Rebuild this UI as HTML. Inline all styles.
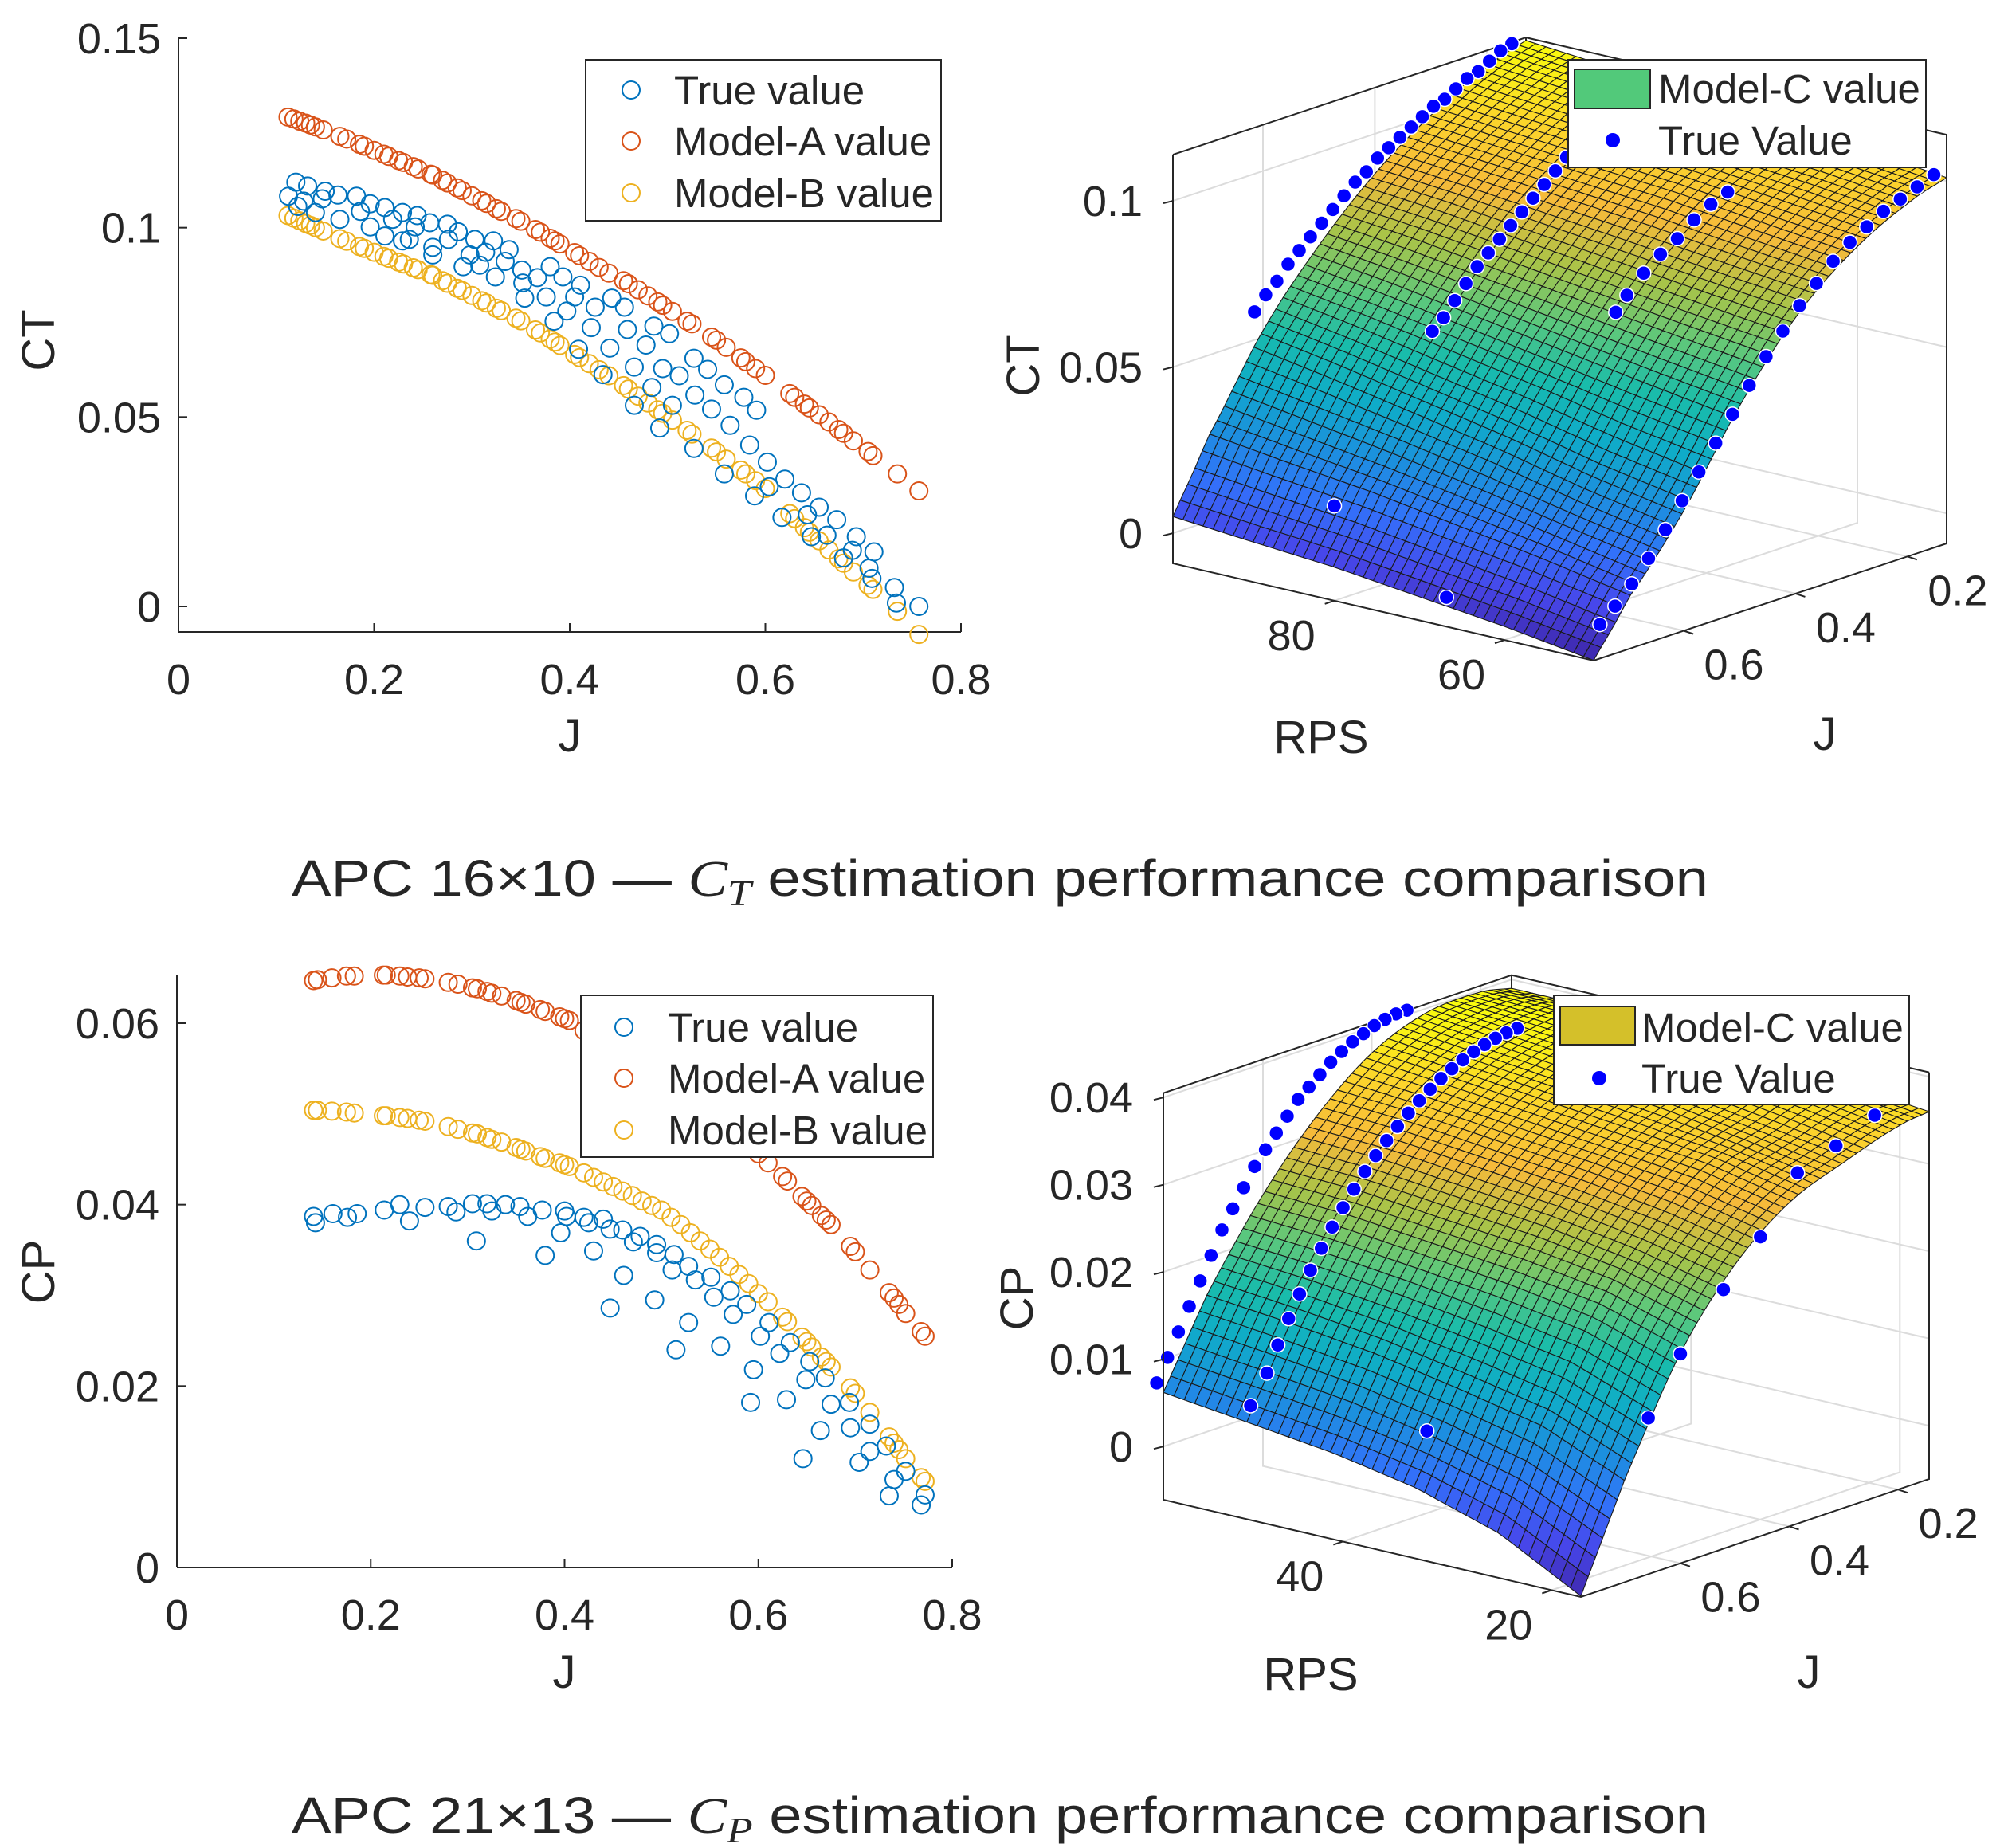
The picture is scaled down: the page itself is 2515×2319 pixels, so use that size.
<!DOCTYPE html>
<html><head><meta charset="utf-8"><style>
html,body{margin:0;padding:0;background:#fff;}
svg text{font-family:"Liberation Sans",sans-serif;fill:#262626;}
</style></head><body>
<svg id="fig" xmlns="http://www.w3.org/2000/svg" width="2515" height="2314" viewBox="0 0 2515 2314">
<rect x="0" y="0" width="2515" height="2314" fill="#fff"/>
<g id="tl"></g>
<g id="bl"></g>
<g id="tr"></g>
<g id="br"></g>

<text x="48" y="427" font-size="58" text-anchor="middle" transform="rotate(-90 48 427)" dy="20">CT</text>
<text x="715" y="943" font-size="58" text-anchor="middle">J</text>
<text x="48" y="1596" font-size="58" text-anchor="middle" transform="rotate(-90 48 1596)" dy="20">CP</text>
<text x="708" y="2118" font-size="58" text-anchor="middle">J</text>

<text x="1284" y="459" font-size="58" text-anchor="middle" transform="rotate(-90 1284 459)" dy="20">CT</text>
<text x="1658" y="945" font-size="58" text-anchor="middle">RPS</text>
<text x="2290" y="941" font-size="58" text-anchor="middle">J</text>
<text x="1276" y="1629" font-size="58" text-anchor="middle" transform="rotate(-90 1276 1629)" dy="20">CP</text>
<text x="1645" y="2121" font-size="58" text-anchor="middle">RPS</text>
<text x="2270" y="2118" font-size="58" text-anchor="middle">J</text>

<text x="366" y="1124" font-size="64" textLength="1778" lengthAdjust="spacingAndGlyphs">APC 16×10 — <tspan font-family="Liberation Serif, serif" font-style="italic">C</tspan><tspan font-family="Liberation Serif, serif" font-style="italic" font-size="46" dy="12">T</tspan><tspan dy="-12"> estimation performance comparison</tspan></text>
<text x="366" y="2300" font-size="64" textLength="1778" lengthAdjust="spacingAndGlyphs">APC 21×13 — <tspan font-family="Liberation Serif, serif" font-style="italic">C</tspan><tspan font-family="Liberation Serif, serif" font-style="italic" font-size="46" dy="12">P</tspan><tspan dy="-12"> estimation performance comparison</tspan></text>
</svg>
<script>
// ---------- CT 2D data ----------
const ctModelJ = [.112,.118,.124,.13,.135,.14,.148,.165,.172,.185,.19,.2,.21,.215,.225,.23,.24,.245,.258,.26,.27,.275,.285,.29,.3,.31,.315,.325,.33,.345,.35,.365,.37,.38,.385,.39,.405,.41,.42,.43,.44,.455,.46,.47,.48,.49,.495,.505,.52,.525,.545,.55,.56,.575,.58,.59,.6,.625,.63,.64,.645,.655,.665,.675,.68,.69,.705,.71,.735,.757];
const ctModelA = [.1292,.1287,.1281,.1276,.1271,.1266,.1258,.1241,.1234,.1220,.1215,.1204,.1194,.1188,.1177,.1172,.1161,.1155,.1141,.1139,.1125,.1118,.1105,.1098,.1084,.1071,.1064,.1050,.1043,.1024,.1017,.0995,.0988,.0972,.0965,.0957,.0934,.0926,.0911,.0895,.0880,.0860,.0852,.0836,.0820,.0804,.0795,.0779,.0753,.0746,.0711,.0703,.0684,.0656,.0646,.0628,.0610,.0562,.0552,.0534,.0524,.0506,.0487,.0467,.0457,.0437,.0409,.0398,.0350,.0305];
const ctModelB = [.1032,.1025,.1018,.1011,.1006,.1000,.0991,.0971,.0964,.0950,.0945,.0935,.0924,.0919,.0909,.0904,.0894,.0889,.0876,.0874,.0860,.0853,.0840,.0834,.0821,.0807,.0801,.0787,.0781,.0761,.0754,.0730,.0722,.0706,.0698,.0689,.0665,.0657,.0641,.0625,.0609,.0583,.0574,.0555,.0537,.0519,.0510,.0492,.0465,.0455,.0418,.0408,.0389,.0360,.0350,.0332,.0311,.0245,.0232,.0208,.0196,.0173,.0149,.0126,.0114,.0091,.0056,.0045,-.0013,-.0074];
const ctTrueJ = [.1125,.120,.122,.132,.128,.140,.147,.150,.165,.163,.182,.186,.196,.196,.211,.211,.219,.229,.229,.236,.242,.244,.257,.260,.260,.275,.276,.286,.291,.298,.303,.308,.314,.322,.324,.334,.338,.351,.352,.354,.367,.376,.380,.384,.393,.397,.405,.409,.411,.422,.426,.434,.441,.443,.456,.459,.466,.466,.478,.484,.486,.492,.495,.502,.505,.512,.527,.527,.528,.541,.545,.558,.558,.564,.578,.584,.589,.591,.602,.604,.617,.620,.637,.643,.647,.655,.663,.673,.680,.689,.693,.706,.709,.711,.732,.734,.757];
const ctTrue = [.1083,.112,.1056,.111,.107,.104,.1076,.1096,.1022,.1086,.1083,.1043,.1002,.1063,.1053,.0978,.1022,.104,.0965,.0969,.1002,.1032,.1013,.0948,.0928,.1009,.0969,.0989,.0897,.0928,.0969,.0901,.0935,.0965,.087,.0911,.0942,.0888,.0854,.0814,.0868,.0817,.0897,.0753,.087,.078,.0817,.0679,.0848,.0736,.079,.0612,.0682,.0814,.079,.0731,.0632,.0531,.069,.0578,.074,.0471,.0628,.072,.0531,.0609,.0655,.0417,.0558,.0626,.0521,.0585,.035,.0478,.0552,.0426,.0292,.0518,.0381,.0316,.0235,.0336,.03,.0242,.0184,.0262,.0188,.0229,.0128,.0148,.0184,.0101,.0074,.0144,.005,.0009,.0];
const ctXTicks = [0,0.2,0.4,0.6,0.8];
const ctXTickLabels = ["0","0.2","0.4","0.6","0.8"];
const ctYTicks = [0,0.05,0.1,0.15];
const ctYTickLabels = ["0","0.05","0.1","0.15"];

// ---------- CP 2D data ----------
const cpModelJ = [.141,.145,.16,.175,.183,.213,.216,.23,.238,.25,.256,.28,.29,.305,.31,.32,.325,.335,.35,.355,.36,.375,.38,.395,.40,.405,.42,.43,.44,.45,.46,.47,.48,.49,.5,.51,.52,.53,.54,.55,.56,.57,.58,.59,.60,.61,.625,.63,.645,.65,.655,.665,.67,.675,.695,.70,.715,.735,.74,.745,.752,.768,.772];
const cpModelA = [.0647,.0648,.065,.0652,.0652,.0653,.0653,.0652,.0651,.065,.0649,.0645,.0643,.0639,.0638,.0635,.0633,.063,.0625,.0623,.0621,.0615,.0613,.0607,.0605,.0603,.0592,.0585,.0577,.057,.0563,.0557,.055,.0542,.0535,.0528,.052,.0513,.0505,.0497,.0489,.048,.0472,.0464,.0456,.0446,.0431,.0426,.0409,.0404,.0399,.0388,.0383,.0378,.0354,.0348,.0328,.0303,.0297,.029,.028,.026,.0255];
const cpModelB = [.0504,.0504,.0503,.0502,.0501,.0498,.0498,.0496,.0495,.0493,.0492,.0486,.0483,.0479,.0478,.0474,.0472,.0469,.0463,.0461,.0459,.0453,.0451,.0446,.0444,.0442,.0435,.0430,.0425,.042,.0415,.041,.0404,.0399,.0394,.0386,.0378,.0369,.036,.0351,.0342,.0332,.0323,.0313,.0302,.0293,.0276,.0271,.0254,.0249,.0243,.0232,.0227,.0221,.0198,.0192,.0171,.0144,.0137,.013,.012,.0099,.0095];
const cpTrueJ = [.141,.143,.161,.176,.186,.214,.230,.240,.256,.280,.288,.305,.309,.320,.325,.339,.354,.362,.377,.380,.396,.400,.402,.420,.425,.430,.440,.447,.447,.460,.461,.471,.478,.493,.495,.495,.513,.511,.515,.528,.528,.535,.551,.554,.561,.571,.574,.588,.592,.595,.602,.611,.622,.629,.633,.646,.649,.653,.664,.669,.675,.694,.695,.704,.715,.715,.732,.735,.740,.752,.768,.772];
const cpTrue = [.0387,.038,.039,.0386,.039,.0394,.040,.0382,.0397,.0398,.0392,.0401,.036,.0401,.0393,.040,.0398,.0387,.0394,.0344,.0369,.0393,.0387,.0386,.038,.0349,.0384,.0373,.0286,.0372,.0322,.0359,.0365,.0295,.0356,.0347,.0345,.0328,.024,.0332,.027,.0317,.032,.0298,.0244,.0305,.0279,.029,.0182,.0218,.0255,.027,.0236,.0185,.0248,.012,.0207,.0227,.0151,.0209,.018,.0182,.0154,.0116,.0158,.0128,.0134,.0079,.0097,.0106,.0069,.008];
const cpXTicks = [0,0.2,0.4,0.6,0.8];
const cpXTickLabels = ["0","0.2","0.4","0.6","0.8"];
const cpYTicks = [0,0.02,0.04,0.06];
const cpYTickLabels = ["0","0.02","0.04","0.06"];

// ---------- CT surface data ----------
const ctSurfRps = [49.5,60,70,80,90,99];
const ctSurfJ = [.13,.2,.3,.4,.5,.6,.7,.761];
const ctSurfRow0 = [.101,.097,.088,.074,.053,.027,.006,-.009];
const ctSurfRow1 = [.104,.100,.091,.077,.057,.032,.011,-.005];
const ctSurfRow2 = [.106,.102,.094,.080,.061,.038,.015,-.002];
const ctSurfRow3 = [.109,.105,.096,.083,.065,.043,.019,.001];
const ctSurfRow4 = [.111,.107,.098,.086,.069,.048,.022,.003];
const ctSurfRow5 = [.113,.109,.100,.088,.072,.052,.025,.005];
const ctDotRps = [100,100,100,100,100,100,100,100,100,100,100,100,100,100,100,100,100,100,100,100,100,100,100,100,
  85,85,85,85,85,85,85,85,85,85,85,85,85,
  70,70,70,70,70,70,70,70,
  51,51,51,51,51,51,51,51,51,51,51,51,51,51,51,51,51,51,51,51,51, 68, 81];
const ctDotJ = [.14,.16,.18,.2,.22,.24,.26,.28,.3,.32,.34,.36,.38,.4,.42,.44,.46,.48,.5,.52,.54,.56,.58,.6,
  .27,.29,.31,.33,.35,.37,.39,.41,.43,.45,.47,.49,.51,
  .21,.24,.27,.30,.33,.36,.39,.41,
  .13,.16,.19,.22,.25,.28,.31,.34,.37,.40,.43,.46,.49,.52,.55,.58,.61,.64,.67,.70,.727, .743, .746];
const ctDotCT = [.112,.111,.109,.107,.106,.104,.102,.101,.099,.097,.095,.093,.091,.088,.086,.083,.080,.077,.074,.071,.068,.064,.061,.057,
  .094,.091,.088,.085,.082,.079,.076,.073,.070,.066,.062,.058,.055,
  .089,.087,.084,.080,.077,.073,.068,.064,
  .101,.099,.097,.095,.092,.089,.085,.080,.075,.069,.063,.056,.049,.042,.035,.028,.021,.014,.008,.003,-.001, -.002, .018];

// ---------- CP surface data ----------
const cpSurfRps = [17.2,25,33,41,49,57.2];
const cpSurfJ = [.143,.2,.3,.4,.5,.6,.7,.783];
const cpSurfRow0 = [.036,.0355,.0335,.031,.026,.018,.006,-.006];
const cpSurfRow1 = [.037,.037,.035,.033,.028,.021,.010,-.001];
const cpSurfRow2 = [.038,.038,.0365,.034,.0295,.0225,.012,.002];
const cpSurfRow3 = [.0385,.039,.0375,.035,.0305,.0235,.0138,.0038];
const cpSurfRow4 = [.039,.0395,.0385,.036,.0315,.0245,.015,.005];
const cpSurfRow5 = [.039,.0398,.0395,.037,.032,.025,.016,.0062];
const cpDotRps = [58,58,58,58,58,58,58,58,58,58,58,58,58,58,58,58,58,58,58,58,58,58,58,58,
  49,49,49,49,49,49,49,49,49,49,49,49,49,49,49,49,49,49,49,49,49,49,49,49,49,
  17.2,17.2,17.2,17.2,17.2,17.2,17.2, 33];
const cpDotJ = [.32,.34,.36,.38,.40,.42,.44,.46,.48,.50,.52,.54,.56,.58,.60,.62,.64,.66,.68,.70,.72,.74,.76,.78,
  .29,.31,.33,.35,.37,.39,.41,.43,.45,.47,.49,.51,.53,.55,.57,.59,.61,.63,.65,.67,.69,.71,.73,.75,.78,
  .243,.314,.385,.453,.521,.600,.659, .763];
const cpDotCP = [.040,.040,.0398,.0395,.039,.0385,.0378,.037,.036,.035,.034,.0325,.031,.0295,.028,.026,.024,.022,.0195,.017,.0145,.012,.0095,.007,
  .0398,.0397,.0395,.0392,.0388,.0383,.0377,.037,.0362,.0353,.0343,.0332,.032,.0307,.0293,.0277,.026,.0242,.0222,.0201,.0178,.0154,.0128,.010,.0069,
  .0377,.0357,.0341,.0282,.0236,.0179,.0118, .0081];

const NS = "http://www.w3.org/2000/svg";
function mk(parent, tag, attrs, txt){
  const e = document.createElementNS(NS, tag);
  for (const k in attrs) e.setAttribute(k, attrs[k]);
  if (txt !== undefined) e.textContent = txt;
  parent.appendChild(e);
  return e;
}
function lin(d0,d1,r0,r1){ return v => r0 + (v-d0)/(d1-d0)*(r1-r0); }

// ---------- 2D scatter ----------
function scatter2D(g, cfg){
  const xs = lin(0,0.8,cfg.x0,cfg.x1), ys = lin(0,cfg.yRef,cfg.y0,cfg.yRefPx);
  const ax = mk(g,'line',{x1:cfg.x0,y1:cfg.axisBottom,x2:cfg.x1,y2:cfg.axisBottom,stroke:'#262626','stroke-width':2});
   
  const ay = mk(g,'line',{x1:cfg.x0,y1:cfg.axisTop,x2:cfg.x0,y2:cfg.axisBottom,stroke:'#262626','stroke-width':2});
   
  cfg.xTicks.forEach((t,i)=>{
    const x = xs(t);
    const tk = mk(g,'line',{x1:x,y1:cfg.axisBottom,x2:x,y2:cfg.axisBottom-11,stroke:'#262626','stroke-width':2});
     
    const lb = mk(g,'text',{x:x,y:cfg.axisBottom+78,'font-size':54,'text-anchor':'middle'},cfg.xLabels[i]);
     
  });
  cfg.yTicks.forEach((t,i)=>{
    const y = ys(t);
    const tk = mk(g,'line',{x1:cfg.x0,y1:y,x2:cfg.x0+11,y2:y,stroke:'#262626','stroke-width':2});
     
    const lb = mk(g,'text',{x:cfg.x0-22,y:y+19,'font-size':54,'text-anchor':'end'},cfg.yLabels[i]);
     
  });
  function series(J,V,color,name){
    const sg = mk(g,'g',{});
     
    const n = Math.min(J.length,V.length);
    for(let i=0;i<n;i++){
      const c = mk(sg,'circle',{cx:xs(J[i]),cy:ys(V[i]),r:11,fill:'none',stroke:color,'stroke-width':2});
       
    }
  }
  series(cfg.aJ,cfg.A,'#D95319','model-a-series');
  series(cfg.aJ,cfg.B,'#EDB120','model-b-series');
  series(cfg.tJ,cfg.T,'#0072BD','true-value-series');
  const lg = mk(g,'g',{});
   
  const lr = mk(lg,'rect',{x:cfg.lx,y:cfg.ly,width:cfg.lw,height:cfg.lh,fill:'#fff',stroke:'#262626','stroke-width':2});
   
  const items=[['True value','#0072BD'],['Model-A value','#D95319'],['Model-B value','#EDB120']];
  items.forEach((it,i)=>{
    const y = cfg.rows[i];
    const m = mk(lg,'circle',{cx:cfg.mx,cy:y,r:11,fill:'none',stroke:it[1],'stroke-width':2});
     
    const t = mk(lg,'text',{x:cfg.tx,y:y+18,'font-size':51},it[0]);
     
  });
}
scatter2D(document.getElementById('tl'),{x0:224,x1:1206,y0:761,yRef:0.15,yRefPx:48,axisTop:48,axisBottom:793,
  xTicks:ctXTicks,xLabels:ctXTickLabels,yTicks:ctYTicks,yLabels:ctYTickLabels,
  aJ:ctModelJ,A:ctModelA,B:ctModelB,tJ:ctTrueJ,T:ctTrue,
  lx:735,ly:75,lw:446,lh:202,rows:[113,177,242],mx:792,tx:846});
scatter2D(document.getElementById('bl'),{x0:222,x1:1195,y0:1967,yRef:0.06,yRefPx:1284,axisTop:1224,axisBottom:1967,
  xTicks:cpXTicks,xLabels:cpXTickLabels,yTicks:cpYTicks,yLabels:cpYTickLabels,
  aJ:cpModelJ,A:cpModelA,B:cpModelB,tJ:cpTrueJ,T:cpTrue,
  lx:729,ly:1249,lw:442,lh:203,rows:[1289,1353,1418],mx:783,tx:838});

// ---------- 3D surface ----------
const parula = [[62,38,168],[71,71,235],[50,114,250],[28,144,222],[15,172,200],[25,188,171],[92,200,124],[170,196,72],[246,186,58],[252,212,44],[249,251,14]];
function cmap(t){
  t = Math.max(0,Math.min(1,t))*(parula.length-1);
  const i = Math.min(parula.length-2,Math.floor(t)), f = t-i;
  const a=parula[i], b=parula[i+1];
  return 'rgb('+a.map((v,k)=>Math.round(v+(b[k]-v)*f)).join(',')+')';
}
function surface3D(g, cfg){
  const L=cfg.L,F=cfg.F,R=cfg.R;
  function P(rps,j,z){
    const fr=(cfg.rpsMax-rps)/(cfg.rpsMax-cfg.rpsMin), fj=(cfg.jMax-j)/(cfg.jMax-cfg.jMin);
    return [L[0]+fr*(F[0]-L[0])+fj*(R[0]-F[0]), L[1]+fr*(F[1]-L[1])+fj*(R[1]-F[1])-(z-cfg.zMin)*cfg.zPx];
  }
  const pts = a => a.map(p=>p[0].toFixed(1)+','+p[1].toFixed(1)).join(' ');
  const zTop = cfg.zMax;
  const gg = mk(g,'g',{stroke:'#dcdcdc','stroke-width':2,fill:'none'});
   
  cfg.zTicks.forEach(z=>{
    mk(gg,'polyline',{points:pts([P(cfg.rpsMax,cfg.jMax,z),P(cfg.rpsMax,cfg.jMin,z),P(cfg.rpsMin,cfg.jMin,z)])});
  });
  cfg.jTicks.forEach(j=>{
    mk(gg,'polyline',{points:pts([P(cfg.rpsMin,j,cfg.zMin),P(cfg.rpsMax,j,cfg.zMin),P(cfg.rpsMax,j,zTop)])});
  });
  cfg.rpsTicks.forEach(r=>{
    mk(gg,'polyline',{points:pts([P(r,cfg.jMax,cfg.zMin),P(r,cfg.jMin,cfg.zMin),P(r,cfg.jMin,zTop)])});
  });
  const be = mk(g,'g',{stroke:'#262626','stroke-width':2,fill:'none'});
   
  mk(be,'polyline',{points:pts([P(cfg.rpsMax,cfg.jMax,zTop),P(cfg.rpsMax,cfg.jMin,zTop),P(cfg.rpsMin,cfg.jMin,zTop)])});
  mk(be,'polyline',{points:pts([P(cfg.rpsMax,cfg.jMin,cfg.zMin),P(cfg.rpsMax,cfg.jMin,zTop)])});
  const rows = cfg.rows;
  function rowVal(row,j){
    const J=cfg.sJ; let k=0;
    while(k<J.length-2 && j>J[k+1]) k++;
    const t=(j-J[k])/(J[k+1]-J[k]);
    const p0=row[Math.max(0,k-1)], p1=row[k], p2=row[k+1], p3=row[Math.min(J.length-1,k+2)];
    const m1=(p2-p0)/((k>0?2:1)), m2=(p3-p1)/((k+2<J.length?2:1));
    const t2=t*t,t3=t2*t;
    return (2*t3-3*t2+1)*p1+(t3-2*t2+t)*m1+(-2*t3+3*t2)*p2+(t3-t2)*m2;
  }
  function zAt(rps,j){
    const Rr=cfg.sRps; let k=0;
    while(k<Rr.length-2 && rps>Rr[k+1]) k++;
    const t=(rps-Rr[k])/(Rr[k+1]-Rr[k]);
    return rowVal(rows[k],j)*(1-t)+rowVal(rows[k+1],j)*t;
  }
  let zlo=Infinity,zhi=-Infinity;
  rows.forEach(r=>r.forEach(v=>{zlo=Math.min(zlo,v);zhi=Math.max(zhi,v);}));
  const nR=cfg.nR,nJ=cfg.nJ;
  const R0=cfg.sRps[0],R1=cfg.sRps[cfg.sRps.length-1],J0=cfg.sJ[0],J1=cfg.sJ[cfg.sJ.length-1];
  const grid=[];
  for(let a=0;a<=nR;a++){grid.push([]);for(let b=0;b<=nJ;b++){
    const rps=R1-(R1-R0)*a/nR, j=J0+(J1-J0)*b/nJ, z=zAt(rps,j);
    grid[a].push({p:P(rps,j,z),z:z});
  }}
  const quads=[];
  for(let a=0;a<nR;a++)for(let b=0;b<nJ;b++){
    quads.push({a:a,b:b,key:a+b*(nR/nJ)});
  }
  quads.sort((q1,q2)=>q1.key-q2.key);
  const sg = mk(g,'g',{stroke:'#1a1a1a','stroke-width':1.1,'stroke-linejoin':'round'});
   
  quads.forEach(q=>{
    const c=[grid[q.a][q.b],grid[q.a+1][q.b],grid[q.a+1][q.b+1],grid[q.a][q.b+1]];
    const zm=(c[0].z+c[1].z+c[2].z+c[3].z)/4;
    const pl = mk(sg,'polygon',{points:pts(c.map(v=>v.p)),fill:cmap((zm-zlo)/(zhi-zlo))});
     
  });
  const dg = mk(g,'g',{});
   
  const n=Math.min(cfg.dR.length,cfg.dJ.length,cfg.dZ.length);
  for(let i=0;i<n;i++){
    const p=P(cfg.dR[i],cfg.dJ[i],cfg.dZ[i]);
    const c = mk(dg,'circle',{cx:p[0],cy:p[1],r:9,fill:'#0000ff',stroke:'#fff','stroke-width':1.5});
     
  }
  const fe = mk(g,'g',{stroke:'#262626','stroke-width':2,fill:'none'});
   
  mk(fe,'polyline',{points:pts([P(cfg.rpsMax,cfg.jMax,zTop),P(cfg.rpsMax,cfg.jMax,cfg.zMin),P(cfg.rpsMin,cfg.jMax,cfg.zMin),P(cfg.rpsMin,cfg.jMin,cfg.zMin),P(cfg.rpsMin,cfg.jMin,zTop)])});
  cfg.zTicks.forEach((z,i)=>{
    const p=P(cfg.rpsMax,cfg.jMax,z);
    const tk=mk(g,'line',{x1:p[0],y1:p[1],x2:p[0]-12,y2:p[1]+3,stroke:'#262626','stroke-width':2});
     
    const lb=mk(g,'text',{x:p[0]-38,y:p[1]+19,'font-size':54,'text-anchor':'end'},cfg.zLabels[i]);
     
  });
  cfg.rpsTicks.forEach((r,i)=>{
    const p=P(r,cfg.jMax,cfg.zMin);
    const tk=mk(g,'line',{x1:p[0],y1:p[1],x2:p[0]-12,y2:p[1]+4,stroke:'#262626','stroke-width':2});
     
    const lb=mk(g,'text',{x:p[0]-54,y:p[1]+62,'font-size':54,'text-anchor':'middle'},cfg.rpsLabels[i]);
     
  });
  cfg.jTicks.forEach((j,i)=>{
    const p=P(cfg.rpsMin,j,cfg.zMin);
    const tk=mk(g,'line',{x1:p[0],y1:p[1],x2:p[0]+12,y2:p[1]+4,stroke:'#262626','stroke-width':2});
     
    const lb=mk(g,'text',{x:p[0]+63,y:p[1]+61,'font-size':54,'text-anchor':'middle'},cfg.jLabels[i]);
     
  });
  const lg=mk(g,'g',{});
   
  const lb=cfg.leg;
  const r=mk(lg,'rect',{x:lb.x,y:lb.y,width:lb.w,height:lb.h,fill:'#fff',stroke:'#262626','stroke-width':2});
   
  const pa=mk(lg,'rect',{x:lb.px,y:lb.py,width:lb.pw,height:lb.ph,fill:lb.pc,stroke:'#262626','stroke-width':2});
   
  const t1=mk(lg,'text',{x:lb.tx,y:lb.r1+18,'font-size':51},'Model-C value');
   
  const dd=mk(lg,'circle',{cx:lb.dx,cy:lb.r2,r:9,fill:'#0000ff'});
   
  const t2=mk(lg,'text',{x:lb.tx,y:lb.r2+18,'font-size':51},'True Value');
   
}
surface3D(document.getElementById('tr'),{L:[1472,707],F:[2000,829],R:[2443,682],
  rpsMax:99,rpsMin:49.5,jMax:0.761,jMin:0.13,zMin:-0.0091,zMax:0.1139,zPx:4170,
  zTicks:[0,0.05,0.1],zLabels:["0","0.05","0.1"],rpsTicks:[60,80],rpsLabels:["60","80"],jTicks:[0.2,0.4,0.6],jLabels:["0.2","0.4","0.6"],
  sRps:ctSurfRps,sJ:ctSurfJ,rows:[ctSurfRow0,ctSurfRow1,ctSurfRow2,ctSurfRow3,ctSurfRow4,ctSurfRow5],nR:42,nJ:48,
  dR:ctDotRps,dJ:ctDotJ,dZ:ctDotCT,
  leg:{x:1968,y:75,w:449,h:135,px:1976,py:87,pw:95,ph:49,pc:'#52c97a',tx:2081,r1:111,r2:176,dx:2024}});
surface3D(document.getElementById('br'),{L:[1460,1882],F:[1984,2004],R:[2421,1856],
  rpsMax:57.2,rpsMin:17.2,jMax:0.783,jMin:0.143,zMin:-0.0061,zMax:0.0405,zPx:10950,
  zTicks:[0,0.01,0.02,0.03,0.04],zLabels:["0","0.01","0.02","0.03","0.04"],rpsTicks:[20,40],rpsLabels:["20","40"],jTicks:[0.2,0.4,0.6],jLabels:["0.2","0.4","0.6"],
  sRps:cpSurfRps,sJ:cpSurfJ,rows:[cpSurfRow0,cpSurfRow1,cpSurfRow2,cpSurfRow3,cpSurfRow4,cpSurfRow5],nR:40,nJ:48,
  dR:cpDotRps,dJ:cpDotJ,dZ:cpDotCP,
  leg:{x:1950,y:1249,w:446,h:137,px:1958,py:1263,pw:94,ph:48,pc:'#d4c02a',tx:2060,r1:1289,r2:1353,dx:2007}});
</script>
</body></html>
